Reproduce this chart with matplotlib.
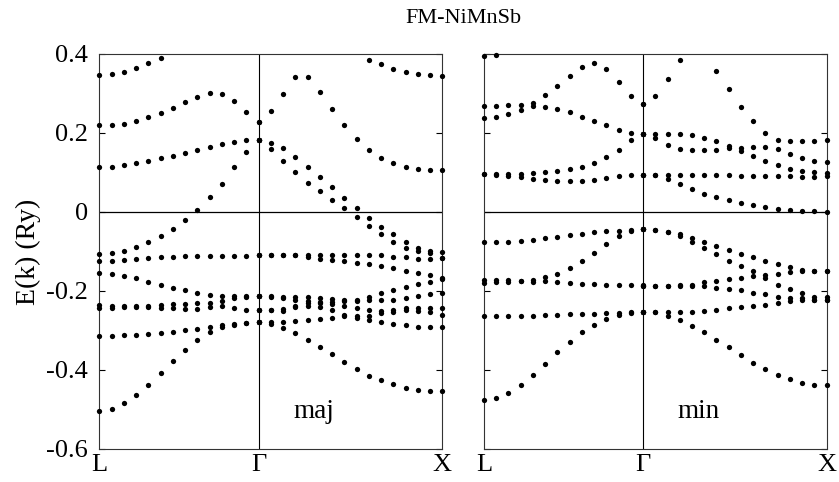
import numpy as np
import matplotlib
matplotlib.use('Agg')
import matplotlib.pyplot as plt

plt.rcParams['font.family'] = ['Liberation Serif', 'DejaVu Serif']
nan = np.nan

# k-path L -> Gamma -> X (units of 2pi/a), uniform k-point grid
k_L, k_G, k_X = 0.0, np.sqrt(3) / 2, np.sqrt(3) / 2 + 1.0
n_LG, n_GX = 14, 16
k_labels = ['L', 'Γ', 'X']
y_ticks = [-0.6, -0.4, -0.2, 0, 0.2, 0.4]
y_tick_labels = ['-0.6', '-0.4', '-0.2', '0', '0.2', '0.4']
title = 'FM-NiMnSb'
ylabel = 'E(k) (Ry)'

# majority spin, L -> Gamma (14 k-points)
maj_LG = [
    [0.348, 0.349, 0.354, 0.364, 0.376, 0.391, nan, nan, nan, nan, nan, nan, nan, nan],
    [0.219, 0.221, 0.224, 0.230, 0.240, 0.251, 0.264, 0.279, 0.291, 0.300, 0.299, 0.282, 0.253, 0.229],
    [0.115, 0.115, 0.119, 0.123, 0.129, 0.136, 0.142, 0.150, 0.157, 0.165, 0.171, 0.176, 0.181, 0.181],
    [-0.106, -0.103, -0.098, -0.089, -0.075, -0.060, -0.042, -0.021, 0.006, 0.037, 0.072, 0.113, 0.153, 0.181],
    [-0.123, -0.123, -0.121, -0.118, -0.116, -0.114, -0.113, -0.112, -0.111, -0.111, -0.111, -0.111, -0.111, -0.110],
    [-0.154, -0.157, -0.161, -0.168, -0.176, -0.185, -0.192, -0.198, -0.205, -0.209, -0.212, -0.213, -0.212, -0.212],
    [-0.236, -0.237, -0.238, -0.239, -0.237, -0.235, -0.233, -0.232, -0.231, -0.230, -0.226, -0.219, -0.214, -0.212],
    [-0.243, -0.242, -0.241, -0.240, -0.241, -0.242, -0.244, -0.245, -0.245, -0.241, -0.239, -0.243, -0.247, -0.248],
    [-0.313, -0.313, -0.312, -0.311, -0.308, -0.306, -0.303, -0.300, -0.295, -0.290, -0.287, -0.283, -0.281, -0.279],
    [-0.503, -0.498, -0.484, -0.463, -0.437, -0.408, -0.378, -0.349, -0.323, -0.303, -0.292, -0.285, -0.281, -0.279],
]

# majority spin, Gamma -> X (16 k-points)
maj_GX = [
    [nan, nan, nan, nan, nan, nan, nan, nan, nan, 0.386, 0.374, 0.363, 0.354, 0.350, 0.346, 0.345],
    [0.229, 0.255, 0.299, 0.341, 0.341, 0.304, 0.260, 0.219, 0.184, 0.157, 0.137, 0.123, 0.115, 0.110, 0.106, 0.106],
    [0.181, 0.175, 0.162, 0.140, 0.115, 0.089, 0.062, 0.035, 0.009, -0.016, -0.037, -0.057, -0.076, -0.090, -0.100, -0.102],
    [0.181, 0.160, 0.128, 0.100, 0.074, 0.052, 0.031, 0.010, -0.012, -0.035, -0.057, -0.076, -0.091, -0.100, -0.104, -0.117],
    [-0.110, -0.110, -0.110, -0.110, -0.110, -0.110, -0.110, -0.110, -0.110, -0.110, -0.110, -0.114, -0.114, -0.118, -0.118, -0.117],
    [-0.110, -0.110, -0.110, -0.110, -0.115, -0.118, -0.121, -0.123, -0.128, -0.132, -0.138, -0.143, -0.149, -0.155, -0.160, -0.168],
    [-0.212, -0.212, -0.214, -0.216, -0.215, -0.218, -0.220, -0.222, -0.222, -0.214, -0.205, -0.198, -0.190, -0.182, -0.176, -0.170],
    [-0.212, -0.214, -0.218, -0.222, -0.226, -0.228, -0.228, -0.226, -0.225, -0.224, -0.224, -0.222, -0.218, -0.212, -0.208, -0.204],
    [-0.248, -0.247, -0.245, -0.237, -0.231, -0.231, -0.232, -0.237, -0.243, -0.247, -0.250, -0.247, -0.243, -0.243, -0.243, -0.243],
    [-0.248, -0.249, -0.250, -0.241, -0.237, -0.241, -0.247, -0.260, -0.264, -0.264, -0.256, -0.252, -0.247, -0.250, -0.252, -0.260],
    [-0.279, -0.279, -0.279, -0.277, -0.274, -0.270, -0.268, -0.264, -0.268, -0.273, -0.279, -0.283, -0.287, -0.290, -0.292, -0.292],
    [-0.279, -0.283, -0.294, -0.307, -0.323, -0.341, -0.360, -0.380, -0.398, -0.414, -0.426, -0.436, -0.445, -0.450, -0.452, -0.452],
]

# minority spin, L -> Gamma
min_LG = [
    [0.396, 0.398, nan, nan, nan, nan, nan, nan, nan, nan, nan, nan, nan, nan],
    [0.268, 0.268, 0.270, 0.271, 0.276, 0.295, 0.320, 0.345, 0.366, 0.376, 0.362, 0.329, 0.293, 0.273],
    [0.238, 0.240, 0.248, 0.259, 0.269, 0.267, 0.261, 0.252, 0.241, 0.230, 0.219, 0.208, 0.201, 0.198],
    [0.095, 0.095, 0.095, 0.097, 0.099, 0.101, 0.105, 0.109, 0.115, 0.124, 0.138, 0.158, 0.183, 0.198],
    [0.095, 0.094, 0.092, 0.089, 0.084, 0.081, 0.078, 0.078, 0.078, 0.081, 0.085, 0.090, 0.094, 0.094],
    [-0.077, -0.077, -0.076, -0.073, -0.070, -0.067, -0.063, -0.059, -0.055, -0.051, -0.048, -0.047, -0.045, -0.044],
    [-0.171, -0.171, -0.171, -0.174, -0.171, -0.165, -0.156, -0.143, -0.124, -0.103, -0.081, -0.061, -0.049, -0.044],
    [-0.180, -0.177, -0.177, -0.174, -0.176, -0.174, -0.178, -0.180, -0.182, -0.182, -0.184, -0.186, -0.186, -0.186],
    [-0.264, -0.264, -0.264, -0.264, -0.263, -0.262, -0.260, -0.258, -0.258, -0.258, -0.256, -0.256, -0.254, -0.254],
    [-0.475, -0.471, -0.458, -0.437, -0.413, -0.384, -0.355, -0.328, -0.304, -0.285, -0.271, -0.260, -0.256, -0.254],
]

# minority spin, Gamma -> X
min_GX = [
    [0.273, 0.294, 0.337, 0.386, nan, nan, 0.358, 0.311, 0.267, 0.230, 0.200, 0.183, 0.179, 0.179, 0.179, 0.181],
    [0.198, 0.198, 0.198, 0.197, 0.194, 0.187, 0.179, 0.168, 0.162, 0.165, 0.165, 0.160, 0.147, 0.136, 0.128, 0.126],
    [0.198, 0.187, 0.170, 0.160, 0.156, 0.156, 0.156, 0.162, 0.154, 0.141, 0.130, 0.118, 0.110, 0.104, 0.100, 0.099],
    [0.094, 0.094, 0.094, 0.094, 0.094, 0.094, 0.093, 0.093, 0.092, 0.092, 0.090, 0.090, 0.090, 0.089, 0.089, 0.090],
    [0.094, 0.094, 0.084, 0.072, 0.058, 0.046, 0.037, 0.030, 0.023, 0.017, 0.013, 0.008, 0.006, 0.003, 0.002, 0.000],
    [-0.044, -0.046, -0.051, -0.056, -0.066, -0.076, -0.085, -0.095, -0.106, -0.115, -0.125, -0.132, -0.139, -0.146, -0.150, -0.150],
    [-0.044, -0.046, -0.051, -0.062, -0.076, -0.091, -0.106, -0.123, -0.138, -0.150, -0.159, -0.156, -0.152, -0.150, -0.150, -0.150],
    [-0.187, -0.187, -0.187, -0.184, -0.184, -0.176, -0.174, -0.170, -0.167, -0.163, -0.167, -0.184, -0.195, -0.205, -0.214, -0.214],
    [-0.187, -0.187, -0.187, -0.187, -0.188, -0.188, -0.193, -0.195, -0.198, -0.204, -0.207, -0.214, -0.218, -0.218, -0.222, -0.222],
    [-0.254, -0.254, -0.254, -0.252, -0.252, -0.250, -0.247, -0.244, -0.241, -0.239, -0.235, -0.231, -0.226, -0.222, -0.222, -0.222],
    [-0.254, -0.254, -0.263, -0.274, -0.288, -0.305, -0.324, -0.343, -0.362, -0.382, -0.398, -0.412, -0.424, -0.432, -0.437, -0.439],
]

k_LG = np.linspace(k_L, k_G, n_LG)
k_GX = np.linspace(k_G, k_X, n_GX)

fig = plt.figure(figsize=(8.39, 4.82), dpi=100)
ax_maj = fig.add_axes([0.1184, 0.0685, 0.4088, 0.8195])
ax_min = fig.add_axes([0.5769, 0.0685, 0.4084, 0.8195])

FS = 19
for ax, bands_LG, bands_GX, tag in [(ax_maj, maj_LG, maj_GX, 'maj'),
                                     (ax_min, min_LG, min_GX, 'min')]:
    for b in bands_LG:
        ax.plot(k_LG, b, 'o', color='black', ms=3.8, mew=0, clip_on=False, zorder=3)
    for b in bands_GX:
        ax.plot(k_GX, b, 'o', color='black', ms=3.8, mew=0, clip_on=False, zorder=3)
    ax.axhline(0, color='black', lw=0.9)
    ax.axvline(k_G, color='black', lw=0.8)
    ax.set_xlim(k_L, k_X)
    ax.set_ylim(-0.6, 0.4)
    ax.set_xticks([k_L, k_G, k_X])
    ax.set_xticklabels(k_labels, fontsize=FS)
    ax.set_yticks(y_ticks)
    ax.tick_params(axis='x', length=0, pad=3.5)
    ax.tick_params(axis='y', direction='in', left=True, right=True, length=4, width=0.8, pad=8)
    for s in ax.spines.values():
        s.set_linewidth(0.8)
        s.set_color('#333333')
    ax.text(0.625, 0.078, tag, transform=ax.transAxes, ha='center', va='baseline', fontsize=19.5)

ax_maj.set_yticklabels(y_tick_labels, fontsize=FS)
ax_maj.set_ylabel(ylabel, fontsize=20, labelpad=4)
ax_min.tick_params(axis='y', labelleft=False)

fig.text(0.552, 0.962, title, ha='center', va='center', fontsize=16)

fig.savefig('out.png', dpi=100)
